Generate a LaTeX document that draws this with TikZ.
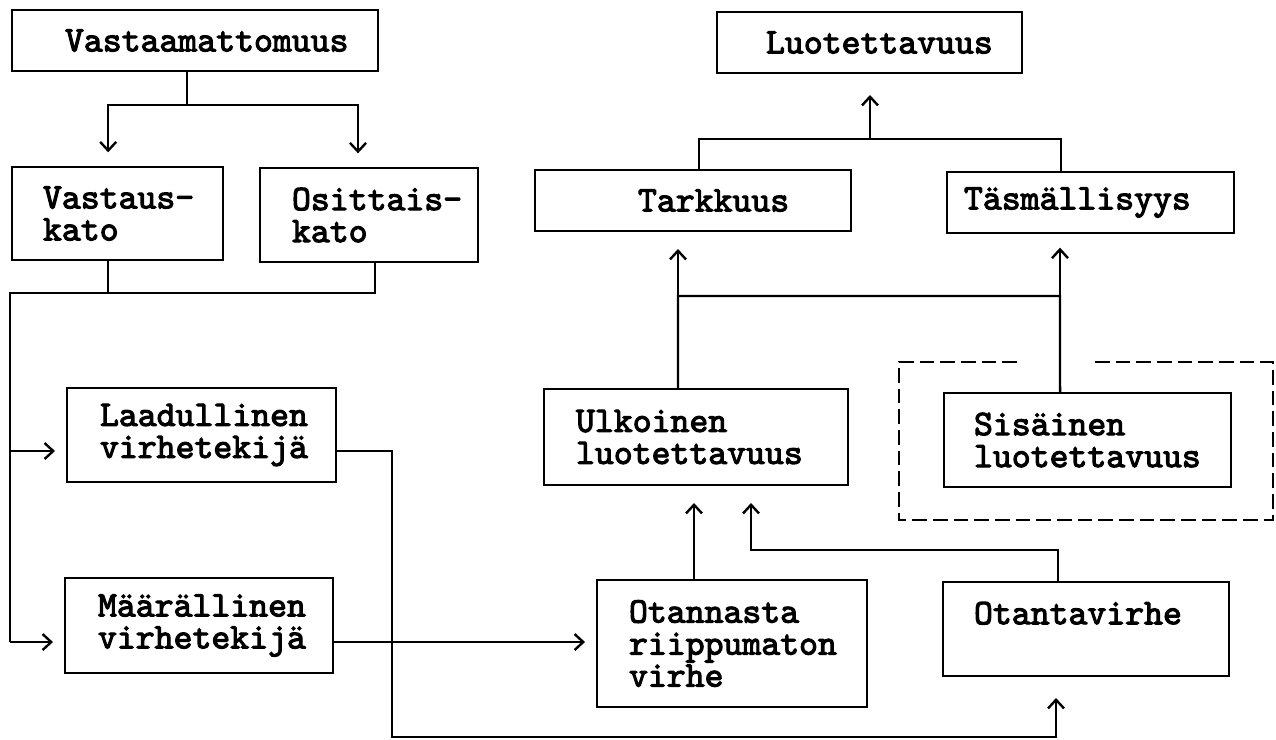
\documentclass[tikz,border=0pt]{standalone}
\usepackage{fontspec}
\newfontfamily\boxfont[Extension=.otf, FakeBold=3]{lmmono10-regular}
\usetikzlibrary{arrows.meta}
\newcommand{\mkbox}[7]{%
  \node[box, minimum width={(#4-#2)*0.75pt}, minimum height={(#5-#3)*0.75pt}]
    (#1) at ({(#2+#4)/2},{(#3+#5)/2})
    {\parbox{\dimexpr(#4pt-#2pt)*3/4\relax}{\raggedright\leftskip=\dimexpr #6pt*3/4\relax #7}};}
\tikzset{
  box/.style={draw, line width=1.8pt, inner sep=0pt, outer sep=0pt,
    font=\boxfont\fontsize{27}{24}\selectfont},
  conn/.style={line width=1.8pt},
  arr/.style={conn, -{Straight Barb[length=6.5pt,width=12pt,line width=1.8pt]}},
  dashframe/.style={line width=1.8pt, dash pattern=on 11pt off 4.5pt}
}
\begin{document}
\begin{tikzpicture}[x=0.75pt, y=-0.75pt]
\useasboundingbox (0,0) rectangle (1276,739);
% boxes: name, left, top, right, bottom, left padding, text
\mkbox{V}{12}{10}{378}{71}{53}{Vastaamattomuus}
\mkbox{VK}{12}{167}{223}{260}{31}{Vastaus-\\kato}
\mkbox{OK}{260}{168}{478}{262}{32}{Osittais-\\kato}
\mkbox{Lu}{67}{388}{336}{482}{33}{Laadullinen\\virhetekijä}
\mkbox{M}{65}{578}{333}{673}{33}{Määrällinen\\virhetekijä}
\mkbox{L}{717}{12}{1022}{73}{49}{Luotettavuus}
\mkbox{T}{535}{170}{851}{231}{103}{Tarkkuus}
\mkbox{Ta}{947}{172}{1234}{233}{17}{Täsmällisyys}
\mkbox{U}{544}{389}{848}{485}{32}{Ulkoinen\\luotettavuus}
\mkbox{S}{944}{393}{1231}{487}{30}{Sisäinen\\luotettavuus}
\mkbox{O}{597}{580}{867}{707}{32}{Otannasta\\riippumaton\\virhe}
\mkbox{O2}{943}{582}{1229}{676}{31}{Otantavirhe\\\mbox{}}
% dashed frame around Sisäinen luotettavuus
\draw[dashframe] (1017,362) -- (899,362) -- (899,520) -- (1273,520) -- (1273,362) -- (1090,362);
% Vastaamattomuus -> Vastauskato, Osittaiskato
\coordinate (vj) at (187,105);
\draw[conn] ([xshift=-6pt]V.south) -- (vj);
\draw[arr, shorten >=11pt] (vj) -| ([xshift=-7pt]VK.north);
\draw[arr, shorten >=11pt] (vj) -| ([xshift=-8.25pt]OK.north);
% Vastauskato, Osittaiskato -> Laadullinen, Maarallinen
\coordinate (kj) at (10,293);
\coordinate (luin) at ([yshift=-12pt]Lu.west);
\coordinate (min) at ([yshift=-12.4pt]M.west);
\draw[conn] ([xshift=-7pt]VK.south) -- ([xshift=-7pt]VK.south |- kj);
\draw[conn] ([xshift=4.5pt]OK.south) |- (kj) -- (kj |- min);
\draw[arr, shorten >=9pt] (kj |- luin) -- (luin);
\draw[arr, shorten >=9pt] (kj |- min) -- (min);
% Laadullinen -> Otantavirhe
\coordinate (luout) at ([yshift=-12pt]Lu.east);
\coordinate (bot) at (392,737);
\coordinate (o2in) at ([xshift=-22.5pt]O2.south);
\draw[arr, shorten >=16.5pt] (luout) -| (bot) -| (o2in);
% Maarallinen -> Otannasta
\coordinate (mout) at ([yshift=-12.4pt]M.east);
\draw[arr, shorten >=9pt] (mout) -- (mout -| O.west);
% Otannasta -> Ulkoinen
\coordinate (oout) at ([xshift=-28.5pt]O.north);
\draw[arr, shorten >=13.5pt] (oout) -- (oout |- U.south);
% Otantavirhe -> Ulkoinen
\coordinate (o2out) at ([xshift=-21pt]O2.north);
\coordinate (uin) at ([xshift=41.25pt]U.south);
\coordinate (oj) at (751,550);
\draw[arr, shorten >=13.5pt] (o2out) |- (oj) -- (uin);
% Ulkoinen, Sisainen -> Tarkkuus, Tasmallisyys
\coordinate (uj) at (678,296);
\coordinate (sj) at (1060,296);
\draw[conn] ([xshift=-13.5pt]U.north) -- ([xshift=-13.5pt]U.north |- uj) -- (sj) -- ([xshift=-20.6pt]S.north);
\draw[arr, shorten >=13.5pt] ([xshift=-11.25pt]T.south |- uj) -- ([xshift=-11.25pt]T.south);
\draw[arr, shorten >=11pt] (sj) -- (sj |- Ta.south);
% Tarkkuus, Tasmallisyys -> Luotettavuus
\coordinate (tj) at (870,139);
\draw[conn] ([xshift=4.5pt]T.north) |- (tj) -| ([xshift=-22pt]Ta.north);
\draw[arr, shorten >=16.5pt] (tj) -- (tj |- L.south);
\end{tikzpicture}
\end{document}
